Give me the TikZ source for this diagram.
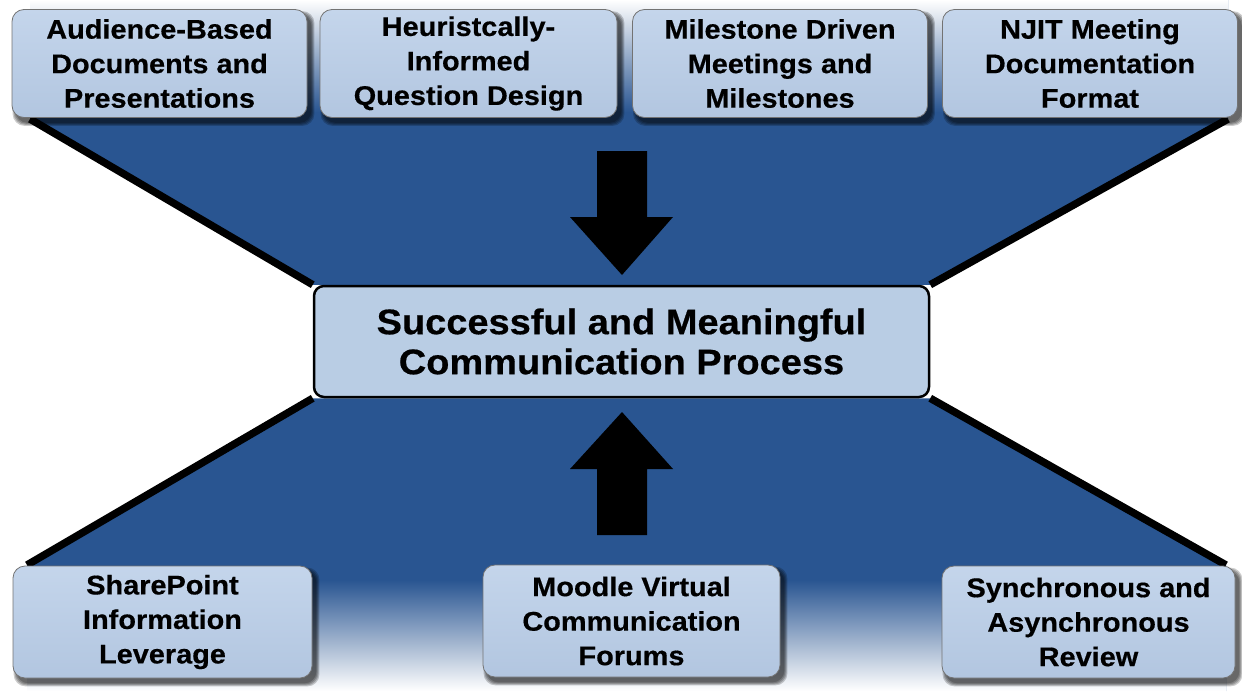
\documentclass[tikz,border=0pt]{standalone}
\usepackage{fontspec}
\setmainfont{Liberation Sans}[FakeStretch=1.07, BoldFeatures={FakeBold=0.5}]
\usetikzlibrary{calc}
\definecolor{bgblue}{RGB}{41,85,145}
\definecolor{boxfill}{RGB}{185,205,228}
\definecolor{boxtop}{RGB}{196,213,235}
\definecolor{boxbot}{RGB}{178,198,224}
\pgfdeclarelayer{bglayer}
\pgfdeclarelayer{shadowlayer}
\pgfsetlayers{bglayer,shadowlayer,main}
\begin{document}
\begin{tikzpicture}[x=1pt,y=-1pt,
  sidebox/.style={rectangle, rounded corners=12pt, draw=black!55, line width=0.8pt,
    top color=boxtop, bottom color=boxbot, minimum width=295pt, minimum height=108pt,
    align=center, inner sep=0pt, font=\bfseries\fontsize{27}{34.5}\selectfont},
  hubbox/.style={rectangle, rounded corners=10pt, draw=black, line width=2.5pt,
    fill=boxfill, minimum width=615pt, minimum height=111pt, align=center,
    inner sep=0pt, font=\bfseries\fontsize{35.5}{40}\selectfont},
  diagline/.style={line width=7.5pt, black},
  blockarrow/.style={fill=black},
  boxshadow/.style={fill=black, opacity=0.2, rounded corners=12pt}
]
\useasboundingbox (0,0) rectangle (1242,691);

% boxes
\node[sidebox] (t1) at (159.5,63.5) {Audience-Based\\Documents and\\Presentations};
\node[sidebox, minimum width=297pt] (t2) at (468.5,63.5) {Heuristcally-\\Informed\\Question Design};
\node[sidebox] (t3) at (780,63.5) {Milestone Driven\\Meetings and\\Milestones};
\node[sidebox] (t4) at (1090,63.5) {NJIT Meeting\\Documentation\\Format};
\node[hubbox] (hub) at (621.5,341.5) {Successful and Meaningful\\Communication Process};
\node[sidebox, minimum width=299pt, minimum height=112pt] (b1) at (162.5,622) {SharePoint\\Information\\Leverage};
\node[sidebox, minimum width=297pt, minimum height=112pt] (b2) at (631.5,621) {Moodle Virtual\\Communication\\Forums};
\node[sidebox, minimum width=293pt, minimum height=112pt] (b3) at (1088.5,622) {Synchronous and\\Asynchronous\\Review};

% arrows
\fill[blockarrow] (597,151) -- (647,151) -- (647,217) -- (673,217) -- (622,275) -- (570,217) -- (597,217) -- cycle;
\fill[blockarrow] (597,535) -- (647,535) -- (647,469) -- (673,469) -- (622,412) -- (570,469) -- (597,469) -- cycle;

% background funnel
\coordinate (tl) at (30,119);
\coordinate (tr) at (1228,119);
\coordinate (bl) at (27,565);
\coordinate (br) at (1226,565);
\begin{pgfonlayer}{bglayer}
  \fill[bgblue] (tl) -- (hub.north west) -- (hub.north east) -- (tr) -- (1228,0) -- (30,0) -- cycle;
  \shade[top color=white, bottom color=bgblue] (30,0) rectangle (1228,112);
  \fill[bgblue] (hub.south west) -- (hub.south east) -- (br) -- (1226,691) -- (27,691) -- (bl) -- cycle;
  \shade[top color=bgblue, bottom color=white] (27,580) rectangle (1226,691);
  \draw[diagline] (tl) -- (hub.north west);
  \draw[diagline] (tr) -- (hub.north east);
  \draw[diagline] (bl) -- (hub.south west);
  \draw[diagline] (br) -- (hub.south east);
\end{pgfonlayer}

% shadows
\begin{pgfonlayer}{shadowlayer}
  \foreach \n in {t1,t2,t3,t4,b1,b2,b3}{
    \foreach \e in {0,1,2,3}{
      \fill[boxshadow] ($(\n.north west)+(4-\e,5-\e)$) rectangle ($(\n.south east)+(4+\e,5+\e)$);
    }
  }
\end{pgfonlayer}
\end{tikzpicture}
\end{document}
